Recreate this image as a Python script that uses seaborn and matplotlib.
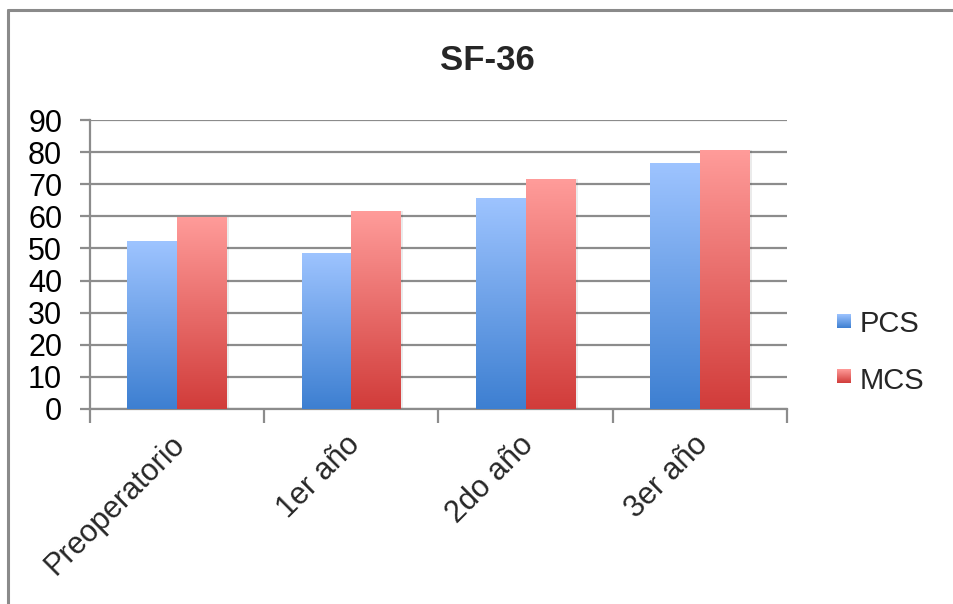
import numpy as np
import pandas as pd
import matplotlib
matplotlib.use("Agg")
import matplotlib.pyplot as plt
from matplotlib.colors import LinearSegmentedColormap
from matplotlib.lines import Line2D
from matplotlib.patches import Rectangle
from matplotlib.transforms import ScaledTranslation
import seaborn as sns

# Data
categories = ["Preoperatorio", "1er año", "2do año", "3er año"]
series_names = ["PCS", "MCS"]
pcs_values = [52.3, 48.7, 65.8, 76.7]
mcs_values = [59.9, 61.6, 71.6, 80.7]
y_ticks = [0, 10, 20, 30, 40, 50, 60, 70, 80, 90]
title = "SF-36"

df = pd.DataFrame({
    "grupo": categories * 2,
    "serie": [series_names[0]] * len(categories) + [series_names[1]] * len(categories),
    "valor": pcs_values + mcs_values,
})

sns.set_theme(style="white")
plt.rcParams["font.family"] = ["Liberation Sans", "DejaVu Sans"]

W, H = 954, 604
fig = plt.figure(figsize=(W / 100, H / 100), dpi=100)
ax = fig.add_axes([90 / W, 1 - 409 / H, (787 - 90) / W, (409 - 120) / H])

top_colors = {"PCS": "#9ec4ff", "MCS": "#ff9c9a"}
bot_colors = {"PCS": "#3d7fd1", "MCS": "#d13c3a"}
mid_colors = {"PCS": "#6ea0e8", "MCS": "#e86a68"}

sns.barplot(data=df, x="grupo", y="valor", hue="serie", order=categories,
            hue_order=series_names, palette=mid_colors, width=0.572,
            dodge=True, gap=0, saturation=1, ax=ax, legend=False, zorder=3,
            linewidth=0)

# Vertical gradient fill for every bar
grad = np.linspace(1, 0, 256).reshape(-1, 1)
bars = [p for p in ax.patches if isinstance(p, Rectangle)]
for i, bar in enumerate(bars):
    name = series_names[i // len(categories)]
    cmap = LinearSegmentedColormap.from_list(name, [bot_colors[name], top_colors[name]])
    x0, w = bar.get_x(), bar.get_width()
    h = bar.get_height()
    # soft shadow at the right edge
    shadow = Rectangle((x0 + 0.012, 0), w, h, facecolor="#000000", alpha=0.08,
                       linewidth=0, zorder=2.5)
    ax.add_patch(shadow)
    img = ax.imshow(grad, cmap=cmap, aspect="auto", extent=(x0, x0 + w, 0, h),
                    zorder=3.2, interpolation="bicubic", vmin=0, vmax=1)
    img.set_clip_path(bar)
    bar.set_facecolor("none")
ax.set_xlim(-0.5, len(categories) - 0.5)
ax.set_ylim(0, 90)

# Grid and axes
ax.set_yticks(y_ticks)
ax.set_yticklabels([str(t) for t in y_ticks], fontsize=22, color="#000000")
ax.yaxis.grid(True, color="#8c8c8c", linewidth=1.6, zorder=1)
ax.set_axisbelow(True)
for s in ["top", "right"]:
    ax.spines[s].set_visible(False)
for s in ["left", "bottom"]:
    ax.spines[s].set_color("#8c8c8c")
    ax.spines[s].set_linewidth(1.6)
ax.tick_params(axis="y", which="major", left=True, length=7, width=1.6,
               color="#8c8c8c", pad=13)
ax.set_xticks(range(len(categories)))
ax.set_xticklabels(categories, rotation=45, ha="right", va="top",
                   rotation_mode="anchor", fontsize=22)
ax.tick_params(axis="x", which="major", length=0, pad=15)
shift = ScaledTranslation(-7 / 100, 0, fig.dpi_scale_trans)
for lbl in ax.get_xticklabels():
    lbl.set_transform(lbl.get_transform() + shift)
ax.set_xticks(np.arange(-0.5, len(categories)), minor=True)
ax.tick_params(axis="x", which="minor", bottom=True, length=10, width=1.6,
               color="#8c8c8c")
ax.set_xlabel("")
ax.set_ylabel("")

# Title
fig.text(487 / W, 1 - 60 / H, title, ha="center", va="center",
         fontsize=25, fontweight="bold")

# Legend
for name, yc_box, yc_txt in zip(series_names, [321, 376], [324, 381]):
    cmap = LinearSegmentedColormap.from_list(name + "_lg", [bot_colors[name], top_colors[name]])
    lax = fig.add_axes([837 / W, 1 - (yc_box + 7) / H, 14 / W, 14 / H])
    lax.imshow(grad, cmap=cmap, aspect="auto", interpolation="bicubic")
    lax.set_axis_off()
    fig.text(860 / W, 1 - yc_txt / H, name, ha="left", va="center", fontsize=21)

# Outer chart frame (top and left edges)
fig.add_artist(Line2D([8 / W, 1], [1 - 10 / H, 1 - 10 / H], color="#8a8a8a",
                      linewidth=2.2, transform=fig.transFigure))
fig.add_artist(Line2D([8 / W, 8 / W], [0, 1 - 10 / H], color="#8a8a8a",
                      linewidth=2.2, transform=fig.transFigure))

fig.savefig("out.png", dpi=100, facecolor="white")
